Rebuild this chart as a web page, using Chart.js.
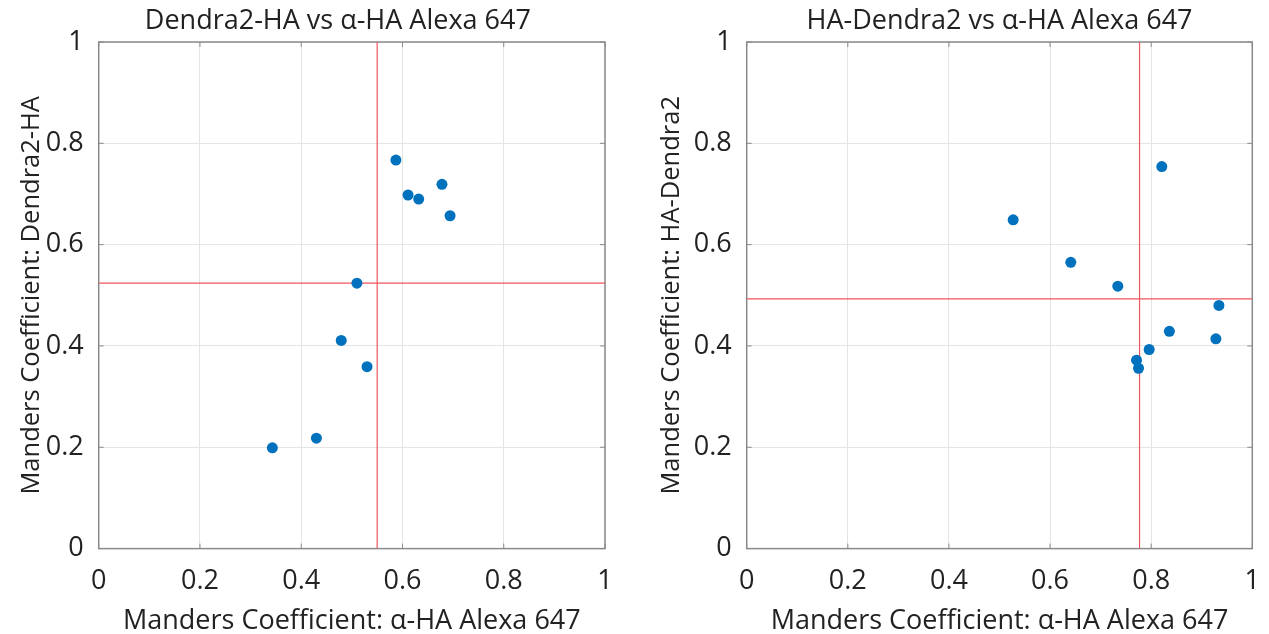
<!DOCTYPE html>
<html>
<head>
<meta charset="utf-8">
<script src="https://cdn.jsdelivr.net/npm/chart.js@4.4.1/dist/chart.umd.min.js"></script>
<style>
  html, body { margin: 0; padding: 0; background: #fff; }
  #wrap { position: relative; width: 1269px; height: 634px; }
  .panel { position: absolute; top: 0; height: 634px; }
  #left { left: 0; width: 640px; }
  #right { left: 640px; width: 629px; }
</style>
</head>
<body>
<div id="wrap">
  <div class="panel" id="left"><canvas id="chartLeft"></canvas></div>
  <div class="panel" id="right"><canvas id="chartRight"></canvas></div>
</div>
<script>
// Dendra2-HA cells: x = alpha-HA Alexa 647 coefficient, y = Dendra2-HA coefficient
const dendraHaX = [0.587, 0.611, 0.632, 0.678, 0.694, 0.510, 0.479, 0.530, 0.430, 0.343];
const dendraHaY = [0.767, 0.698, 0.690, 0.719, 0.657, 0.524, 0.411, 0.359, 0.218, 0.199];
const dendraHaCutX = 0.550;
const dendraHaCutY = 0.524;

// HA-Dendra2 cells
const haDendraX = [0.527, 0.641, 0.734, 0.821, 0.934, 0.836, 0.928, 0.796, 0.771, 0.775];
const haDendraY = [0.649, 0.565, 0.518, 0.754, 0.480, 0.429, 0.414, 0.393, 0.372, 0.356];
const haDendraCutX = 0.777;
const haDendraCutY = 0.493;

const tickValues = [0, 0.2, 0.4, 0.6, 0.8, 1];

const FONT = "'Open Sans', sans-serif";
const TEXT = '#222222';
const AXIS = '#8a8a8a';

// axes box with inward tick marks on all four sides + panel title
const boxPlugin = {
  id: 'boxPlugin',
  beforeDatasetsDraw(chart) {
    const { ctx, chartArea: a, scales } = chart;
    ctx.save();
    ctx.strokeStyle = AXIS;
    ctx.lineWidth = 1.5;
    ctx.strokeRect(a.left, a.top, a.right - a.left, a.bottom - a.top);
    ctx.lineWidth = 1;
    ctx.beginPath();
    tickValues.forEach(v => {
      const x = scales.x.getPixelForValue(v);
      ctx.moveTo(x, a.bottom); ctx.lineTo(x, a.bottom - 5);
      ctx.moveTo(x, a.top); ctx.lineTo(x, a.top + 5);
      const y = scales.y.getPixelForValue(v);
      ctx.moveTo(a.left, y); ctx.lineTo(a.left + 5, y);
      ctx.moveTo(a.right, y); ctx.lineTo(a.right - 5, y);
    });
    ctx.stroke();
    ctx.restore();
  },
  afterDraw(chart, args, opts) {
    const { ctx, chartArea: a } = chart;
    ctx.save();
    ctx.fillStyle = TEXT;
    ctx.font = `27px ${FONT}`;
    ctx.textAlign = 'center';
    ctx.textBaseline = 'alphabetic';
    ctx.fillText(opts.text, (a.left + a.right) / 2 + (opts.dx || 0), 29);
    ctx.restore();
  }
};

function makeChart(id, title, titleDx, yTitle, xs, ys, cutX, cutY, yAxisWidth, padRight) {
  const points = xs.map((x, i) => ({ x: x, y: ys[i] }));
  const setTicks = s => { s.ticks = tickValues.map(v => ({ value: v })); };
  const textFont = { family: FONT, size: 27 };

  return new Chart(document.getElementById(id), {
    type: 'scatter',
    data: {
      datasets: [
        { data: points, backgroundColor: '#0072bd', borderWidth: 0, pointRadius: 5.5, order: 1 },
        { type: 'line', data: [{ x: cutX, y: 0 }, { x: cutX, y: 1 }],
          borderColor: '#f0565c', borderWidth: 1.2, pointRadius: 0, order: 2 },
        { type: 'line', data: [{ x: 0, y: cutY }, { x: 1, y: cutY }],
          borderColor: '#f0565c', borderWidth: 1.2, pointRadius: 0, order: 2 }
      ]
    },
    options: {
      responsive: true,
      maintainAspectRatio: false,
      animation: false,
      layout: { padding: { left: 0, right: padRight, top: 42, bottom: 0 } },
      plugins: {
        legend: { display: false },
        tooltip: { enabled: false },
        boxPlugin: { text: title, dx: titleDx }
      },
      scales: {
        x: {
          type: 'linear', min: 0, max: 1,
          afterBuildTicks: setTicks,
          // fixed height; don't let the end labels push the plot edges in
          afterFit: s => { s.height = 85.4; s.paddingLeft = 0; s.paddingRight = 0; },
          grid: { color: '#e4e4e4', drawTicks: false },
          border: { display: false },
          ticks: { padding: 17, color: TEXT, font: textFont, callback: v => String(v) },
          title: { display: true, text: 'Manders Coefficient: α-HA Alexa 647', color: TEXT,
                   font: textFont, padding: { top: 0, bottom: -4 } }
        },
        y: {
          type: 'linear', min: 0, max: 1,
          afterBuildTicks: setTicks,
          afterFit: s => { s.width = yAxisWidth; },
          grid: { color: '#e4e4e4', drawTicks: false },
          border: { display: false },
          ticks: { padding: 15, color: TEXT, font: textFont, callback: v => String(v) },
          title: { display: true, text: yTitle, color: TEXT,
                   font: { family: FONT, size: 25.5 }, padding: { top: 16, bottom: 0 } }
        }
      }
    },
    plugins: [boxPlugin]
  });
}

makeChart('chartLeft', 'Dendra2-HA vs α-HA Alexa 647', -14, 'Manders Coefficient: Dendra2-HA',
  dendraHaX, dendraHaY, dendraHaCutX, dendraHaCutY, 98.7, 35);
makeChart('chartRight', 'HA-Dendra2 vs α-HA Alexa 647', 0, 'Manders Coefficient: HA-Dendra2',
  haDendraX, haDendraY, haDendraCutX, haDendraCutY, 106.7, 16.7);
</script>
</body>
</html>
